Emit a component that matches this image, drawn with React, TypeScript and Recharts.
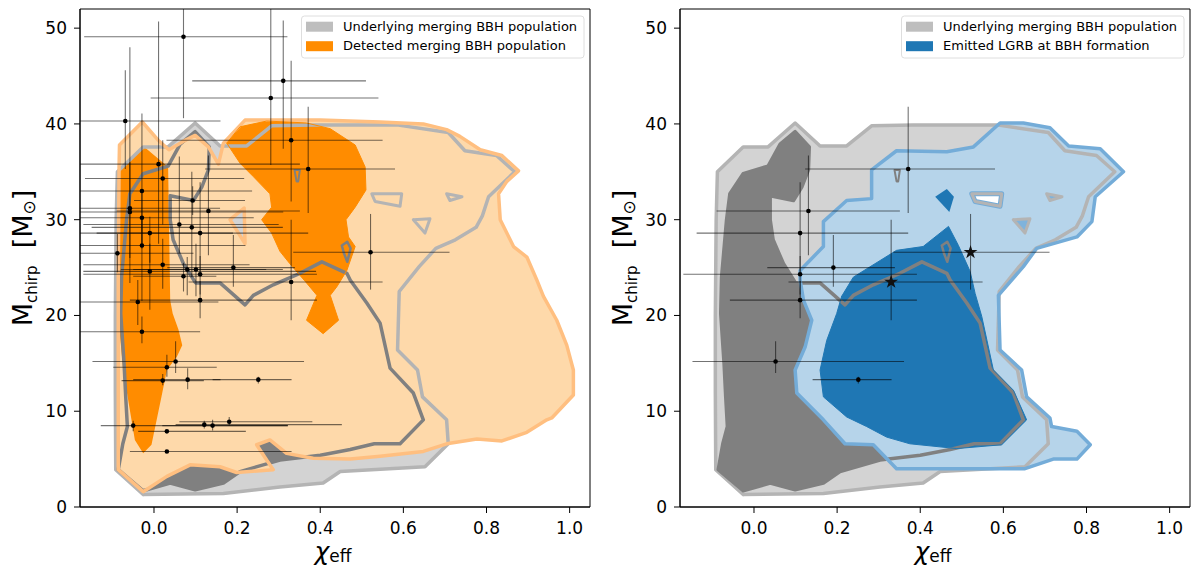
import React from 'react';
import { ScatterChart, Scatter, XAxis, YAxis, ErrorBar, ReferenceArea, Symbols } from 'recharts';

type Pt = [number, number];
type Ev = [number, number, number, number, number, number]; // x, y, x-, x+, y-, y+

const X_DOMAIN: [number, number] = [-0.178, 1.049];
const Y_DOMAIN: [number, number] = [0, 52];
const X_TICKS = [0, 0.2, 0.4, 0.6, 0.8, 1.0];
const Y_TICKS = [0, 10, 20, 30, 40, 50];

// Underlying merging BBH population (outer contour)
const GRAY_OUTER: Pt[] = [
  [-0.026, 1.3], [-0.092, 3.9], [-0.093, 12], [-0.093, 20], [-0.091, 30], [-0.088, 35.0],
  [-0.026, 37.6], [0.034, 37.6], [0.099, 40.1], [0.159, 37.7], [0.223, 37.7], [0.283, 39.8],
  [0.383, 39.9], [0.584, 39.9], [0.708, 39.1], [0.748, 37.2], [0.824, 36.7], [0.868, 35.0],
  [0.805, 32.4], [0.790, 30.4], [0.775, 29.2], [0.725, 27.9], [0.678, 27.0], [0.638, 25.1],
  [0.590, 22.5], [0.586, 16.4], [0.634, 14.3], [0.646, 11.5], [0.704, 9.1], [0.708, 6.6],
  [0.652, 4.2], [0.448, 3.7], [0.407, 2.5], [0.303, 2.1], [0.167, 1.4], [-0.026, 1.3],
];
// Underlying merging BBH population (inner contour)
const GRAY_INNER: Pt[] = [
  [-0.026, 1.7], [-0.086, 3.9], [-0.075, 6.6], [-0.064, 8.4], [-0.068, 11.5], [-0.072, 15.0],
  [-0.080, 20.2], [-0.078, 24.0], [-0.066, 30.0], [-0.058, 32.7], [-0.026, 34.8], [0.034, 35.6],
  [0.063, 37.9], [0.099, 39.2], [0.133, 37.6], [0.131, 35.2], [0.115, 33.4], [0.095, 32.0],
  [0.039, 32.5], [0.039, 30.0], [0.046, 27.9], [0.071, 25.4], [0.100, 23.4], [0.159, 23.4],
  [0.219, 21.1], [0.239, 22.1], [0.287, 23.2], [0.351, 24.4], [0.404, 25.6], [0.464, 24.4],
  [0.472, 23.7], [0.512, 21.3], [0.544, 19.2], [0.568, 14.5], [0.624, 11.9], [0.648, 9.1],
  [0.592, 6.6], [0.530, 6.6], [0.472, 6.0], [0.400, 5.4], [0.303, 4.9], [0.207, 3.7],
  [0.167, 2.5], [0.099, 1.8], [0.039, 2.5], [-0.026, 1.7],
];
const GRAY_TEAR: Pt[] = [[0.338, 35.2], [0.351, 35.2], [0.347, 34.0], [0.343, 34.0], [0.338, 35.2]];
const GRAY_LOOP: Pt[] = [[0.452, 27.3], [0.465, 27.7], [0.473, 27.0], [0.465, 25.6], [0.457, 26.5], [0.452, 27.3]];
const ISLAND_A: Pt[] = [[0.524, 32.7], [0.596, 32.7], [0.592, 31.4], [0.532, 31.9], [0.524, 32.7]];
const ISLAND_B: Pt[] = [[0.624, 30.0], [0.664, 30.1], [0.652, 28.6], [0.624, 30.0]];
const ISLAND_C: Pt[] = [[0.704, 32.7], [0.741, 32.4], [0.712, 32.0], [0.704, 32.7]];

// Detected merging BBH population
const ORANGE_OUTER: Pt[] = [
  [-0.086, 3.9], [-0.086, 23.7], [-0.084, 35.5], [-0.083, 37.8], [-0.028, 40.2], [0.010, 38.3],
  [0.036, 37.3], [0.071, 38.2], [0.099, 38.8], [0.131, 37.6], [0.155, 35.8], [0.167, 38.0],
  [0.219, 40.4], [0.400, 40.4], [0.544, 40.2], [0.648, 40.0], [0.704, 39.4], [0.736, 38.7],
  [0.785, 37.3], [0.837, 36.7], [0.877, 35.1], [0.849, 34.0], [0.829, 32.7], [0.833, 30.0],
  [0.865, 27.2], [0.897, 26.1], [0.921, 23.7], [0.937, 22.0], [0.969, 19.5], [0.993, 16.9],
  [1.009, 14.3], [1.009, 11.7], [0.957, 9.3], [0.945, 9.1], [0.897, 7.8], [0.837, 6.9],
  [0.777, 7.1], [0.704, 6.6], [0.648, 5.8], [0.544, 5.3], [0.472, 5.0], [0.383, 5.1],
  [0.319, 5.6], [0.279, 7.0], [0.247, 6.5], [0.271, 4.9], [0.287, 3.9], [0.199, 3.6],
  [0.159, 4.2], [0.087, 4.4], [0.031, 3.2], [-0.026, 1.6], [-0.086, 3.9],
];
const ORANGE_HOLE: Pt[] = [[0.183, 30.0], [0.217, 31.2], [0.219, 27.5], [0.183, 30.0]];
const ORANGE_INNER_LEFT: Pt[] = [
  [-0.084, 23.7], [-0.083, 35.3], [-0.026, 37.7], [0.034, 35.5], [0.039, 21.6], [0.045, 20.2],
  [0.059, 18.5], [0.068, 16.9], [0.055, 15.7], [0.031, 14.3], [0.018, 11.5], [-0.006, 6.5],
  [-0.026, 5.6], [-0.046, 7.0], [-0.058, 10.1], [-0.074, 14.3], [-0.082, 18.0], [-0.084, 23.7],
];
const ORANGE_INNER_BLOB: Pt[] = [
  [0.175, 38.0], [0.207, 39.7], [0.271, 40.3], [0.367, 40.1], [0.424, 39.5], [0.484, 37.8],
  [0.508, 35.5], [0.510, 33.1], [0.484, 31.3], [0.462, 30.0], [0.468, 28.2], [0.484, 27.2],
  [0.464, 24.7], [0.440, 23.0], [0.424, 22.1], [0.444, 19.5], [0.407, 18.1], [0.367, 19.5],
  [0.392, 22.1], [0.367, 23.4], [0.327, 25.4], [0.303, 26.7], [0.283, 28.6], [0.259, 30.0],
  [0.283, 31.3], [0.279, 32.7], [0.239, 34.5], [0.207, 35.9], [0.175, 38.0],
];

// Emitted LGRB at BBH formation
const BLUE_OUTER: Pt[] = [
  [0.111, 24.7], [0.167, 27.2], [0.167, 29.8], [0.223, 32.0], [0.283, 32.2], [0.283, 35.2],
  [0.343, 37.2], [0.464, 37.1], [0.528, 37.6], [0.592, 40.1], [0.648, 40.1], [0.712, 39.6],
  [0.757, 37.7], [0.833, 37.4], [0.889, 35.0], [0.821, 32.4], [0.813, 29.8], [0.777, 28.2],
  [0.680, 27.0], [0.648, 25.1], [0.588, 22.1], [0.592, 16.4], [0.644, 14.3], [0.656, 11.5],
  [0.712, 9.3], [0.716, 8.4], [0.777, 7.9], [0.809, 6.5], [0.777, 5.0], [0.720, 5.0],
  [0.652, 4.0], [0.343, 4.0], [0.287, 6.5], [0.219, 6.6], [0.167, 9.1], [0.103, 11.9],
  [0.099, 14.3], [0.123, 16.7], [0.139, 19.5], [0.119, 21.6], [0.111, 23.7], [0.111, 24.7],
];
const BLUE_INNER: Pt[] = [
  [0.211, 22.0], [0.239, 24.0], [0.343, 26.8], [0.407, 27.2], [0.468, 29.3], [0.492, 27.3],
  [0.520, 24.6], [0.532, 22.3], [0.548, 19.9], [0.576, 14.3], [0.624, 12.2], [0.656, 9.1],
  [0.596, 6.5], [0.488, 6.1], [0.375, 6.6], [0.319, 7.3], [0.271, 8.4], [0.223, 9.4],
  [0.167, 11.5], [0.159, 14.3], [0.175, 17.4], [0.199, 20.2], [0.211, 22.0],
];
const BLUE_ISLAND: Pt[] = [[0.436, 32.4], [0.464, 33.2], [0.481, 32.4], [0.470, 30.8], [0.436, 32.4]];

// Observed events: chi_eff, M_chirp, x-, x+, y-, y+
const LEFT_EVENTS: Ev[] = [
  [0.071, 49.1, 0.239, 0.250, 8.5, 3.5],
  [-0.069, 40.3, 0.18, 0.229, 5.0, 5.3],
  [0.011, 35.8, 0.26, 0.340, 8.3, 14.9],
  [0.021, 34.3, 0.187, 0.196, 4.8, 4.0],
  [-0.029, 33.0, 0.22, 0.265, 6.0, 8.1],
  [0.281, 42.7, 0.289, 0.259, 7.0, 9.8],
  [0.311, 44.5, 0.219, 0.199, 7.1, 6.3],
  [0.330, 38.3, 0.300, 0.220, 6.4, 8.3],
  [0.371, 35.3, 0.248, 0.209, 4.6, 6.5],
  [0.521, 26.6, 0.186, 0.190, 3.9, 4.0],
  [0.330, 23.5, 0.247, 0.220, 4.0, 6.5],
  [0.093, 32.0, 0.141, 0.126, 1.5, 1.5],
  [-0.058, 31.2, 0.2, 0.217, 5.2, 16.8],
  [-0.058, 30.8, 0.2, 0.369, 7.4, 5.2],
  [0.131, 30.9, 0.221, 0.220, 4.6, 5.8],
  [-0.029, 30.2, 0.2, 0.269, 2.7, 2.8],
  [0.061, 29.5, 0.231, 0.239, 3.0, 7.1],
  [0.091, 29.2, 0.241, 0.219, 5.2, 5.8],
  [0.111, 28.6, 0.249, 0.260, 4.1, 5.3],
  [-0.010, 28.6, 0.2, 0.200, 3.1, 1.7],
  [-0.029, 27.3, 0.2, 0.249, 5.8, 2.7],
  [-0.088, 26.5, 0.15, 0.183, 2.0, 2.0],
  [0.021, 25.3, 0.191, 0.209, 2.5, 2.7],
  [0.080, 24.8, 0.160, 0.190, 2.7, 1.3],
  [0.101, 24.8, 0.151, 0.209, 2.8, 2.7],
  [0.191, 25.0, 0.159, 0.148, 2.0, 3.4],
  [-0.010, 24.6, 0.160, 0.400, 4.0, 2.9],
  [0.071, 24.1, 0.121, 0.079, 1.6, 1.4],
  [0.111, 24.3, 0.281, 0.281, 2.1, 1.9],
  [-0.039, 21.4, 0.2, 0.194, 2.4, 2.3],
  [0.111, 21.6, 0.169, 0.281, 1.9, 2.0],
  [-0.029, 18.3, 0.2, 0.140, 1.2, 1.6],
  [0.052, 15.2, 0.200, 0.309, 1.2, 2.1],
  [0.031, 14.6, 0.129, 0.120, 1.0, 1.3],
  [0.021, 13.2, 0.099, 0.099, 0.5, 0.7],
  [0.081, 13.3, 0.131, 0.079, 1.0, 1.2],
  [0.251, 13.3, 0.110, 0.080, 0.4, 0.3],
  [-0.050, 8.5, 0.078, 0.372, 0.6, 0.5],
  [0.121, 8.6, 0.069, 0.331, 0.4, 0.4],
  [0.141, 8.5, 0.121, 0.181, 0.5, 0.6],
  [0.181, 8.9, 0.120, 0.200, 0.4, 0.5],
  [0.031, 7.9, 0.069, 0.190, 0, 0],
  [0.031, 5.8, 0.089, 0.300, 0, 0],
];
const RIGHT_DOTS: Ev[] = [
  [0.371, 35.3, 0.248, 0.209, 4.6, 6.5],
  [0.131, 30.9, 0.221, 0.220, 4.6, 5.8],
  [0.111, 28.6, 0.249, 0.260, 4.1, 5.3],
  [0.191, 25.0, 0.159, 0.148, 2.0, 3.4],
  [0.111, 24.3, 0.281, 0.281, 2.1, 1.9],
  [0.111, 21.6, 0.169, 0.281, 1.9, 2.0],
  [0.052, 15.2, 0.200, 0.309, 1.2, 2.1],
  [0.251, 13.3, 0.110, 0.080, 0.4, 0.3],
];
const RIGHT_STARS: Ev[] = [
  [0.330, 23.5, 0.247, 0.220, 4.0, 6.5],
  [0.521, 26.6, 0.186, 0.190, 3.9, 4.0],
];

const LEGEND_LEFT = ['Underlying merging BBH population', 'Detected merging BBH population'];
const LEGEND_RIGHT = ['Underlying merging BBH population', 'Emitted LGRB at BBH formation'];

const FONT = "'DejaVu Sans', sans-serif";
const C = {
  grayLight: '#d3d3d3',
  grayLine: '#b4b4b4',
  grayDark: '#808080',
  orangeLight: '#fed9aa',
  orangeLine: '#ffbf80',
  orange: '#ff8c00',
  blueLight: '#b6d4ea',
  blueLine: '#74acd8',
  blue: '#1f77b4',
  swatchGray: '#bebebe',
};

const toXY = (pts: Pt[]) => pts.map(([x, y]) => ({ x, y }));
// error extents are clipped to the visible frame, as in the original figure
const toEv = (evs: Ev[]) =>
  evs.map(([x, y, xm, xp, ym, yp]) => ({
    x,
    y,
    ex: [Math.min(xm, x - X_DOMAIN[0]), Math.min(xp, X_DOMAIN[1] - x)],
    ey: [Math.min(ym, y - Y_DOMAIN[0]), Math.min(yp, Y_DOMAIN[1] - y)],
  }));

const NoShape = () => <g />;
const Dot = (p: any) => <circle cx={p.cx} cy={p.cy} r={2.3} fill="#000" />;
const Star = (p: any) => <Symbols type="star" size={60} cx={p.cx} cy={p.cy} fill="#111" />;

const poly = (key: string, pts: Pt[], fill: string, stroke: string, sw: number) => (
  <Scatter
    key={key}
    data={toXY(pts)}
    shape={NoShape}
    isAnimationActive={false}
    legendType="none"
    lineType="joint"
    zIndex={50}
    line={{ fill, stroke, strokeWidth: sw, strokeLinejoin: 'round', strokeLinecap: 'round' }}
  />
);

const events = (key: string, evs: Ev[], shape: any) => (
  <Scatter key={key} data={toEv(evs)} shape={shape} isAnimationActive={false} legendType="none" zIndex={700}>
    <ErrorBar dataKey="ex" direction="x" width={0} stroke="#000" strokeOpacity={0.55} strokeWidth={1.1} zIndex={650} />
    <ErrorBar dataKey="ey" direction="y" width={0} stroke="#000" strokeOpacity={0.55} strokeWidth={1.1} zIndex={650} />
  </Scatter>
);

const YLabel = (props: any) => {
  const vb = props.viewBox || { x: 20, y: 9, width: 60, height: 498 };
  const x = vb.x + 12;
  const y = vb.y + vb.height / 2;
  return (
    <text x={x} y={y} transform={`rotate(-90, ${x}, ${y})`} textAnchor="middle" fontFamily={FONT} fill="#000" fontSize={27}>
      <tspan>M</tspan>
      <tspan fontSize={15} dy={5}>chirp</tspan>
      <tspan dy={-5}>{'\u00a0\u00a0[M'}</tspan>
      <tspan fontSize={17} dy={3}>{'\u2299'}</tspan>
      <tspan dy={-3}>]</tspan>
    </text>
  );
};

const XLabel = (props: any) => {
  const vb = props.viewBox || { x: 80, y: 507, width: 510, height: 30 };
  const x = vb.x + vb.width / 2 - 2;
  const y = vb.y + 53;
  return (
    <text x={x} y={y} textAnchor="middle" fontFamily={FONT} fill="#000">
      <tspan fontSize={25} fontStyle="italic">{'\u03c7'}</tspan>
      <tspan fontSize={17} dy={2}>eff</tspan>
    </text>
  );
};

const Legend2 = ({ labels, second }: { labels: string[]; second: string }) => (
  <svg width={600} height={577} style={{ position: 'absolute', left: 0, top: 0, pointerEvents: 'none' }}>
    <rect x={301.5} y={16} width={282.5} height={42} rx={3} fill="#fff" fillOpacity={0.8} stroke="#dedede" strokeWidth={1} />
    <rect x={306} y={21.7} width={27} height={10} fill={C.swatchGray} />
    <rect x={306} y={41.2} width={27} height={10} fill={second} />
    <text x={343} y={30.5} fontSize={13} fontFamily={FONT} fill="#000">{labels[0]}</text>
    <text x={343} y={49.5} fontSize={13} fontFamily={FONT} fill="#000">{labels[1]}</text>
  </svg>
);

const tickStyle = { fontSize: 17, fill: '#000', fontFamily: FONT };

function Panel({ right }: { right: boolean }) {
  const lightFill = right ? C.blueLight : C.orangeLight;
  const lineCol = right ? C.blueLine : C.orangeLine;
  const darkFill = right ? C.blue : C.orange;
  return (
    <div style={{ position: 'relative', width: 600, height: 577 }}>
      <ScatterChart width={600} height={577} margin={{ top: 9, right: 10, bottom: 40, left: 20 }}>
        <XAxis
          type="number"
          dataKey="x"
          domain={X_DOMAIN}
          allowDataOverflow
          ticks={X_TICKS}
          interval={0}
          tickFormatter={(v: number) => v.toFixed(1)}
          height={30}
          tickSize={6}
          tickMargin={9}
          tick={tickStyle}
          axisLine={{ stroke: '#000' }}
          tickLine={{ stroke: '#000' }}
          label={<XLabel />}
        />
        <YAxis
          type="number"
          dataKey="y"
          domain={Y_DOMAIN}
          allowDataOverflow
          ticks={Y_TICKS}
          interval={0}
          width={60}
          tickSize={6}
          tickMargin={7}
          tick={tickStyle}
          axisLine={{ stroke: '#000' }}
          tickLine={{ stroke: '#000' }}
          label={<YLabel />}
        />
        {poly('go-f', GRAY_OUTER, C.grayLight, 'none', 0)}
        {poly('gi-f', GRAY_INNER, C.grayDark, 'none', 0)}
        {poly('gt-f', GRAY_TEAR, C.grayDark, 'none', 0)}
        {poly('co-f', right ? BLUE_OUTER : ORANGE_OUTER, lightFill, 'none', 0)}
        {!right && poly('oh-f', ORANGE_HOLE, C.grayLight, 'none', 0)}
        {right
          ? [poly('bi-f', BLUE_INNER, C.blue, 'none', 0), poly('bis-f', BLUE_ISLAND, C.blue, 'none', 0)]
          : [poly('oil-f', ORANGE_INNER_LEFT, C.orange, 'none', 0), poly('oib-f', ORANGE_INNER_BLOB, C.orange, 'none', 0)]}
        {right && poly('ia-b', ISLAND_A, '#ffffff', C.blueLine, 5)}
        {poly('go-l', GRAY_OUTER, 'none', C.grayLine, 3.5)}
        {poly('ia-l', ISLAND_A, 'none', C.grayLine, 3)}
        {poly('ib-l', ISLAND_B, right ? '#7fb3dc' : 'none', C.grayLine, 3)}
        {poly('ic-l', ISLAND_C, right ? '#7fb3dc' : 'none', C.grayLine, 3)}
        {poly('gi-l', GRAY_INNER, 'none', C.grayDark, 3.5)}
        {poly('gl-l', GRAY_LOOP, 'none', C.grayDark, 2.5)}
        {poly('gt-l', GRAY_TEAR, 'none', C.grayDark, 2)}
        {poly('co-l', right ? BLUE_OUTER : ORANGE_OUTER, 'none', lineCol, 3.5)}
        {!right && poly('oh-l', ORANGE_HOLE, 'none', lineCol, 3.5)}
        {poly('ci-l', right ? BLUE_INNER : ORANGE_INNER_BLOB, 'none', darkFill, 1)}
        <ReferenceArea x1={X_DOMAIN[0]} x2={X_DOMAIN[1]} y1={Y_DOMAIN[0]} y2={Y_DOMAIN[1]} fill="none" fillOpacity={0} stroke="#000" strokeWidth={1} />
        {right ? events('dots', RIGHT_DOTS, Dot) : events('dots', LEFT_EVENTS, Dot)}
        {right && events('stars', RIGHT_STARS, Star)}
      </ScatterChart>
      <Legend2 labels={right ? LEGEND_RIGHT : LEGEND_LEFT} second={right ? C.blue : C.orange} />
    </div>
  );
}

export default function App() {
  return (
    <div style={{ position: 'absolute', left: 0, top: 0, width: 1200, height: 577, background: '#fff', fontFamily: FONT }}>
      <div style={{ position: 'absolute', left: 0, top: 0 }}>
        <Panel right={false} />
      </div>
      <div style={{ position: 'absolute', left: 600, top: 0 }}>
        <Panel right={true} />
      </div>
    </div>
  );
}
